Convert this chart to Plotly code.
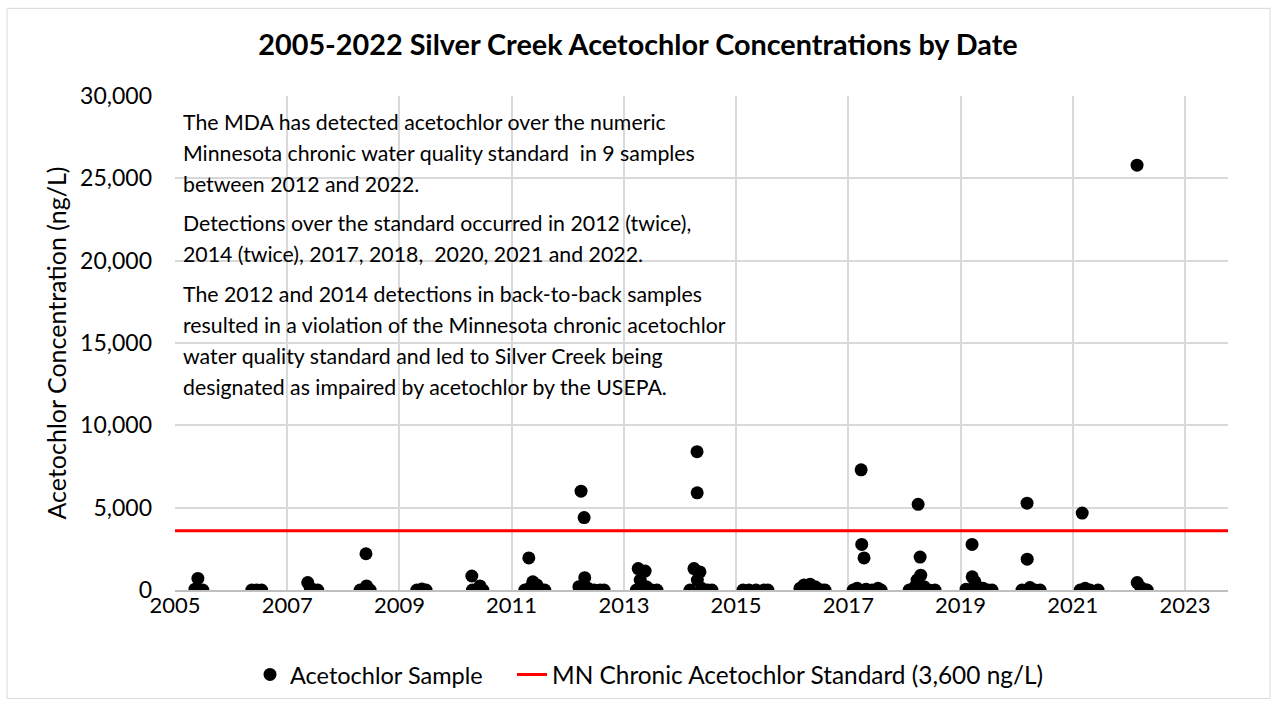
import plotly.graph_objects as go

# ---------------- data ----------------
sample_dates = [
    "2005-05-11", "2005-05-30", "2005-06-12", "2005-07-01",
    "2006-05-16", "2006-06-17", "2006-07-19",
    "2007-05-15", "2007-06-01", "2007-06-17", "2007-07-19",
    "2008-04-20", "2008-05-28", "2008-06-01", "2008-06-24",
    "2009-04-24", "2009-05-27", "2009-06-23",
    "2010-04-17", "2010-04-21", "2010-06-09", "2010-06-28",
    "2011-03-28", "2011-04-23", "2011-04-27", "2011-05-19", "2011-06-15", "2011-07-10", "2011-08-05",
    "2012-03-14", "2012-03-28", "2012-04-17", "2012-04-21", "2012-05-12", "2012-06-21", "2012-07-30", "2012-08-25",
    "2013-03-23", "2013-04-04", "2013-04-17", "2013-05-19", "2013-05-27", "2013-07-02", "2013-08-04",
    "2014-03-07", "2014-04-02", "2014-04-22", "2014-04-23", "2014-04-24", "2014-05-11", "2014-05-22", "2014-07-01", "2014-07-28",
    "2015-02-15", "2015-03-26", "2015-05-11", "2015-07-01", "2015-07-27",
    "2016-02-21", "2016-03-18", "2016-04-27", "2016-05-29", "2016-06-11", "2016-07-14", "2016-08-02",
    "2017-02-01", "2017-02-27", "2017-03-25", "2017-03-29", "2017-04-13", "2017-04-26", "2017-06-04", "2017-07-13", "2017-08-02",
    "2018-02-01", "2018-03-11", "2018-03-24", "2018-03-31", "2018-04-13", "2018-04-17", "2018-05-08", "2018-06-10", "2018-07-19",
    "2019-02-06", "2019-03-17", "2019-03-18", "2019-04-05", "2019-04-18", "2019-05-28", "2019-06-29", "2019-07-25",
    "2020-02-05", "2020-03-09", "2020-03-10", "2020-03-28", "2020-04-30", "2020-06-02",
    "2021-02-18", "2021-03-03", "2021-03-22", "2021-04-23", "2021-06-14",
    "2022-02-23", "2022-02-24", "2022-03-20", "2022-04-22", "2022-04-30",
]
sample_values = [
    50, 700, 0, 0,
    0, 0, 0,
    450, 100, 30, 0,
    0, 2200, 250, 0,
    0, 60, 0,
    850, 0, 250, 0,
    0, 1950, 100, 500, 300, 0, 0,
    200, 6000, 4400, 750, 100, 0, 0, 0,
    0, 1300, 600, 1150, 200, 0, 0,
    0, 1300, 8400, 5900, 600, 1100, 100, 0, 0,
    0, 0, 0, 0, 0,
    100, 300, 350, 200, 100, 0, 0,
    0, 100, 7300, 2770, 1950, 50, 0, 100, 0,
    0, 200, 600, 5200, 2000, 900, 200, 0, 0,
    50, 2770, 800, 500, 200, 100, 0, 0,
    0, 5270, 1870, 150, 0, 0,
    0, 4670, 100, 0, 0,
    25800, 450, 150, 0, 0,
]
standard_x = ["2005-01-01", "2023-10-08"]
standard_value = 3600

title_text = "2005-2022 Silver Creek Acetochlor Concentrations by Date"
y_title = "Acetochlor Concentration (ng/L)"
sample_name = "Acetochlor Sample"
standard_name = "MN Chronic Acetochlor Standard (3,600 ng/L)"
note_lines = [
    "The MDA has detected acetochlor over the numeric",
    "Minnesota chronic water quality standard  in 9 samples",
    "between 2012 and 2022.",
    "Detections over the standard occurred in 2012 (twice),",
    "2014 (twice), 2017, 2018,  2020, 2021 and 2022.",
    "The 2012 and 2014 detections in back-to-back samples",
    "resulted in a violation of the Minnesota chronic acetochlor",
    "water quality standard and led to Silver Creek being",
    "designated as impaired by acetochlor by the USEPA.",
]
note_line_px = [122, 153, 184, 224, 255, 295, 326, 357, 388]

# ---------------- layout geometry ----------------
W, H = 1276, 709
L, R, T, B = 175, 48, 96, 117
pw, ph = W - L - R, H - T - B
def px_x(px):
    return (px - L) / pw
def px_y(py):
    return (H - B - py) / ph

FONT = "Lato"

fig = go.Figure()
fig.add_trace(go.Scatter(
    x=sample_dates, y=sample_values, mode="markers", name=sample_name,
    marker=dict(color="black", size=13, line=dict(width=0)), legend="legend",
))
fig.add_trace(go.Scatter(
    x=standard_x, y=[standard_value, standard_value], mode="lines", name=standard_name,
    line=dict(color="#ff0000", width=3), legend="legend2",
))

shapes = [
    dict(type="rect", xref="paper", yref="paper", x0=px_x(174), x1=px_x(734),
         y0=px_y(410), y1=px_y(96), fillcolor="white", line=dict(width=0), layer="below"),
    dict(type="rect", xref="paper", yref="paper", x0=px_x(7), x1=px_x(1270),
         y0=px_y(701), y1=px_y(8), fillcolor="rgba(0,0,0,0)", line=dict(color="#d9d9d9", width=1)),
]

annotations = []
for txt, py in zip(note_lines, note_line_px):
    annotations.append(dict(
        text=txt, xref="paper", yref="paper", x=px_x(181), y=px_y(py),
        xanchor="left", yanchor="middle", showarrow=False,
        font=dict(family=FONT, size=21.3, color="black"),
    ))

legend_common = dict(orientation="h", xanchor="left", yanchor="middle",
                     itemwidth=30, bgcolor="rgba(0,0,0,0)")

fig.update_layout(
    width=W, height=H,
    margin=dict(l=L, r=R, t=T, b=B),
    paper_bgcolor="white", plot_bgcolor="white",
    title=dict(text="<b>" + title_text + "</b>", x=0.5, xanchor="center",
               y=1 - 45 / H, yanchor="middle",
               font=dict(family=FONT, size=28.8, color="black")),
    font=dict(family=FONT, color="black"),
    showlegend=True,
    legend=dict(x=px_x(250), y=px_y(677), font=dict(family=FONT, size=23.5, color="black"),
                **legend_common),
    legend2=dict(x=px_x(512), y=px_y(677), font=dict(family=FONT, size=24.4, color="black"),
                 **legend_common),
    xaxis=dict(
        type="date", range=["2005-01-01", "2023-10-08"],
        tick0="2005-01-01", dtick="M24", tickformat="%Y",
        showgrid=True, gridcolor="#d9d9d9", gridwidth=1.5,
        showline=True, linecolor="#bfbfbf", linewidth=1.5,
        ticks="", ticklabelstandoff=-5,
        tickfont=dict(family=FONT, size=22, color="black"),
        zeroline=False,
    ),
    yaxis=dict(
        range=[0, 30000], dtick=5000, tickformat=",d",
        showgrid=True, gridcolor="#d9d9d9", gridwidth=1.5,
        showline=False, zeroline=False, ticks="", ticklabelstandoff=22,
        tickfont=dict(family=FONT, size=23, color="black"),
        title=dict(text=y_title, font=dict(family=FONT, size=25, color="black"), standoff=6),
    ),
    shapes=shapes,
    annotations=annotations,
)

fig.write_html("out.html", config={"displayModeBar": False},
               post_script="document.body.style.margin='0';")
